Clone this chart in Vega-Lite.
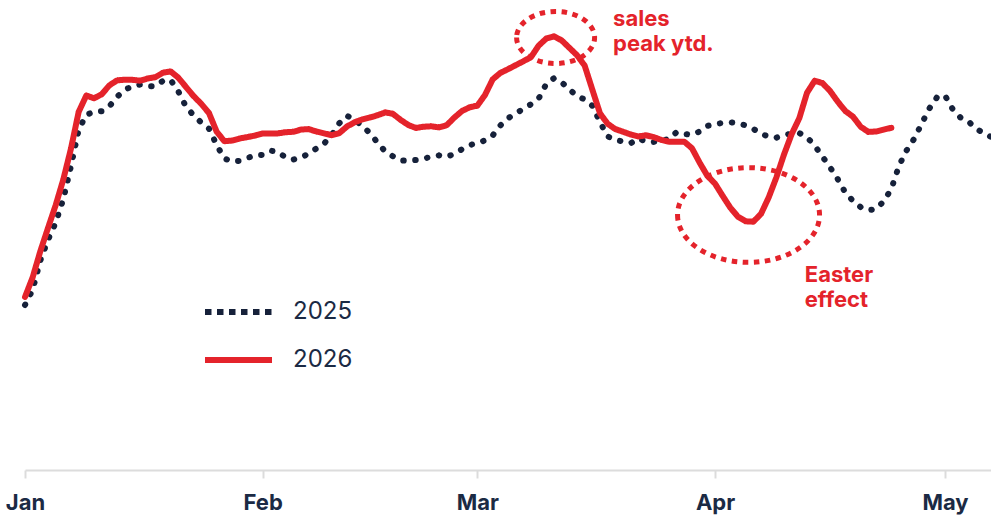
{
  "$schema": "https://vega.github.io/schema/vega-lite/v6.json",
  "width": 966,
  "height": 470,
  "autosize": {"type": "none"},
  "padding": {"left": 25, "top": 0, "right": 0, "bottom": 48},
  "background": "white",
  "config": {"view": {"stroke": null}, "font": "Inter"},
  "datasets": {
    "sales": [
      {"date":"2026-01-01","year":"2025","value":165},{"date":"2026-01-02","year":"2025","value":180.3},{"date":"2026-01-03","year":"2025","value":209.6},{"date":"2026-01-04","year":"2025","value":230.2},{"date":"2026-01-05","year":"2025","value":247.3},{"date":"2026-01-06","year":"2025","value":271},{"date":"2026-01-07","year":"2025","value":304},{"date":"2026-01-08","year":"2025","value":340.3},{"date":"2026-01-09","year":"2025","value":355.3},{"date":"2026-01-10","year":"2025","value":358.1},{"date":"2026-01-11","year":"2025","value":358.8},{"date":"2026-01-12","year":"2025","value":363.6},{"date":"2026-01-13","year":"2025","value":373.1},{"date":"2026-01-14","year":"2025","value":380.2},{"date":"2026-01-15","year":"2025","value":383.7},{"date":"2026-01-16","year":"2025","value":385.4},{"date":"2026-01-17","year":"2025","value":383.8},{"date":"2026-01-18","year":"2025","value":383.8},{"date":"2026-01-19","year":"2025","value":389.2},{"date":"2026-01-20","year":"2025","value":390.1},{"date":"2026-01-21","year":"2025","value":378.5},{"date":"2026-01-22","year":"2025","value":363.3},{"date":"2026-01-23","year":"2025","value":354.6},{"date":"2026-01-24","year":"2025","value":347.4},{"date":"2026-01-25","year":"2025","value":341.4},{"date":"2026-01-26","year":"2025","value":325},{"date":"2026-01-27","year":"2025","value":311.5},{"date":"2026-01-28","year":"2025","value":308.5},{"date":"2026-01-29","year":"2025","value":309.2},{"date":"2026-01-30","year":"2025","value":312.1},{"date":"2026-01-31","year":"2025","value":314.5},
      {"date":"2026-02-01","year":"2025","value":315.2},{"date":"2026-02-02","year":"2025","value":319.4},{"date":"2026-02-03","year":"2025","value":318.2},{"date":"2026-02-04","year":"2025","value":312.5},{"date":"2026-02-05","year":"2025","value":310.4},{"date":"2026-02-06","year":"2025","value":312.6},{"date":"2026-02-07","year":"2025","value":316.2},{"date":"2026-02-08","year":"2025","value":321.5},{"date":"2026-02-09","year":"2025","value":326.3},{"date":"2026-02-10","year":"2025","value":335},{"date":"2026-02-11","year":"2025","value":346.8},{"date":"2026-02-12","year":"2025","value":354.2},{"date":"2026-02-13","year":"2025","value":350.2},{"date":"2026-02-14","year":"2025","value":344},{"date":"2026-02-15","year":"2025","value":336.8},{"date":"2026-02-16","year":"2025","value":327.2},{"date":"2026-02-17","year":"2025","value":318.4},{"date":"2026-02-18","year":"2025","value":313.7},{"date":"2026-02-19","year":"2025","value":309.5},{"date":"2026-02-20","year":"2025","value":309.2},{"date":"2026-02-21","year":"2025","value":310},{"date":"2026-02-22","year":"2025","value":311.3},{"date":"2026-02-23","year":"2025","value":313.3},{"date":"2026-02-24","year":"2025","value":314.7},{"date":"2026-02-25","year":"2025","value":313.2},{"date":"2026-02-26","year":"2025","value":316.1},{"date":"2026-02-27","year":"2025","value":320.8},{"date":"2026-02-28","year":"2025","value":324.9},
      {"date":"2026-03-01","year":"2025","value":326.9},{"date":"2026-03-02","year":"2025","value":329.6},{"date":"2026-03-03","year":"2025","value":334.5},{"date":"2026-03-04","year":"2025","value":344.5},{"date":"2026-03-05","year":"2025","value":351.7},{"date":"2026-03-06","year":"2025","value":356.6},{"date":"2026-03-07","year":"2025","value":361.1},{"date":"2026-03-08","year":"2025","value":365.8},{"date":"2026-03-09","year":"2025","value":371.4},{"date":"2026-03-10","year":"2025","value":386.2},{"date":"2026-03-11","year":"2025","value":391.8},{"date":"2026-03-12","year":"2025","value":387.7},{"date":"2026-03-13","year":"2025","value":380.6},{"date":"2026-03-14","year":"2025","value":373.9},{"date":"2026-03-15","year":"2025","value":370.6},{"date":"2026-03-16","year":"2025","value":364.4},{"date":"2026-03-17","year":"2025","value":347.9},{"date":"2026-03-18","year":"2025","value":333.6},{"date":"2026-03-19","year":"2025","value":330},{"date":"2026-03-20","year":"2025","value":328.5},{"date":"2026-03-21","year":"2025","value":326.7},{"date":"2026-03-22","year":"2025","value":331.4},{"date":"2026-03-23","year":"2025","value":328.5},{"date":"2026-03-24","year":"2025","value":328.1},{"date":"2026-03-25","year":"2025","value":329.4},{"date":"2026-03-26","year":"2025","value":331},{"date":"2026-03-27","year":"2025","value":337.9},{"date":"2026-03-28","year":"2025","value":336.1},{"date":"2026-03-29","year":"2025","value":335.2},{"date":"2026-03-30","year":"2025","value":338.5},{"date":"2026-03-31","year":"2025","value":344.1},
      {"date":"2026-04-01","year":"2025","value":346},{"date":"2026-04-02","year":"2025","value":347},{"date":"2026-04-03","year":"2025","value":347.7},{"date":"2026-04-04","year":"2025","value":346.6},{"date":"2026-04-05","year":"2025","value":344.6},{"date":"2026-04-06","year":"2025","value":341.1},{"date":"2026-04-07","year":"2025","value":336.2},{"date":"2026-04-08","year":"2025","value":333.4},{"date":"2026-04-09","year":"2025","value":332.3},{"date":"2026-04-10","year":"2025","value":334.9},{"date":"2026-04-11","year":"2025","value":336.4},{"date":"2026-04-12","year":"2025","value":337},{"date":"2026-04-13","year":"2025","value":332.7},{"date":"2026-04-14","year":"2025","value":324.5},{"date":"2026-04-15","year":"2025","value":313.5},{"date":"2026-04-16","year":"2025","value":302.8},{"date":"2026-04-17","year":"2025","value":291},{"date":"2026-04-18","year":"2025","value":277.4},{"date":"2026-04-19","year":"2025","value":269.1},{"date":"2026-04-20","year":"2025","value":262.9},{"date":"2026-04-21","year":"2025","value":259.7},{"date":"2026-04-22","year":"2025","value":260.9},{"date":"2026-04-23","year":"2025","value":268.6},{"date":"2026-04-24","year":"2025","value":281.1},{"date":"2026-04-25","year":"2025","value":304.3},{"date":"2026-04-26","year":"2025","value":319.7},{"date":"2026-04-27","year":"2025","value":331.5},{"date":"2026-04-28","year":"2025","value":347},{"date":"2026-04-29","year":"2025","value":362},{"date":"2026-04-30","year":"2025","value":373.2},
      {"date":"2026-05-01","year":"2025","value":374.5},{"date":"2026-05-02","year":"2025","value":360.9},{"date":"2026-05-03","year":"2025","value":352.6},{"date":"2026-05-04","year":"2025","value":349},{"date":"2026-05-05","year":"2025","value":341.4},{"date":"2026-05-06","year":"2025","value":337.1},{"date":"2026-05-07","year":"2025","value":333.1},

      {"date":"2026-01-01","year":"2026","value":173},{"date":"2026-01-02","year":"2026","value":192.7},{"date":"2026-01-03","year":"2026","value":218.8},{"date":"2026-01-04","year":"2026","value":242},{"date":"2026-01-05","year":"2026","value":264.8},{"date":"2026-01-06","year":"2026","value":290.6},{"date":"2026-01-07","year":"2026","value":321.5},{"date":"2026-01-08","year":"2026","value":358.1},{"date":"2026-01-09","year":"2026","value":374.5},{"date":"2026-01-10","year":"2026","value":371.7},{"date":"2026-01-11","year":"2026","value":375.7},{"date":"2026-01-12","year":"2026","value":384.6},{"date":"2026-01-13","year":"2026","value":389.6},{"date":"2026-01-14","year":"2026","value":390.3},{"date":"2026-01-15","year":"2026","value":390.2},{"date":"2026-01-16","year":"2026","value":389.3},{"date":"2026-01-17","year":"2026","value":391.5},{"date":"2026-01-18","year":"2026","value":392.8},{"date":"2026-01-19","year":"2026","value":397.3},{"date":"2026-01-20","year":"2026","value":398.6},{"date":"2026-01-21","year":"2026","value":392.3},{"date":"2026-01-22","year":"2026","value":383},{"date":"2026-01-23","year":"2026","value":373.8},{"date":"2026-01-24","year":"2026","value":366.1},{"date":"2026-01-25","year":"2026","value":356.9},{"date":"2026-01-26","year":"2026","value":338.3},{"date":"2026-01-27","year":"2026","value":328.8},{"date":"2026-01-28","year":"2026","value":329.4},{"date":"2026-01-29","year":"2026","value":331.5},{"date":"2026-01-30","year":"2026","value":332.9},{"date":"2026-01-31","year":"2026","value":334.4},
      {"date":"2026-02-01","year":"2026","value":336.6},{"date":"2026-02-02","year":"2026","value":336.6},{"date":"2026-02-03","year":"2026","value":336.6},{"date":"2026-02-04","year":"2026","value":337.8},{"date":"2026-02-05","year":"2026","value":338.2},{"date":"2026-02-06","year":"2026","value":340.4},{"date":"2026-02-07","year":"2026","value":340.9},{"date":"2026-02-08","year":"2026","value":338.5},{"date":"2026-02-09","year":"2026","value":336.7},{"date":"2026-02-10","year":"2026","value":334.8},{"date":"2026-02-11","year":"2026","value":336.9},{"date":"2026-02-12","year":"2026","value":343.5},{"date":"2026-02-13","year":"2026","value":347.8},{"date":"2026-02-14","year":"2026","value":350.6},{"date":"2026-02-15","year":"2026","value":352.5},{"date":"2026-02-16","year":"2026","value":354.8},{"date":"2026-02-17","year":"2026","value":357.6},{"date":"2026-02-18","year":"2026","value":356.1},{"date":"2026-02-19","year":"2026","value":350.1},{"date":"2026-02-20","year":"2026","value":345},{"date":"2026-02-21","year":"2026","value":342},{"date":"2026-02-22","year":"2026","value":343.3},{"date":"2026-02-23","year":"2026","value":343.7},{"date":"2026-02-24","year":"2026","value":342.6},{"date":"2026-02-25","year":"2026","value":344.8},{"date":"2026-02-26","year":"2026","value":352.4},{"date":"2026-02-27","year":"2026","value":359},{"date":"2026-02-28","year":"2026","value":362.7},
      {"date":"2026-03-01","year":"2026","value":364.3},{"date":"2026-03-02","year":"2026","value":375},{"date":"2026-03-03","year":"2026","value":390.6},{"date":"2026-03-04","year":"2026","value":397.1},{"date":"2026-03-05","year":"2026","value":400.8},{"date":"2026-03-06","year":"2026","value":404.8},{"date":"2026-03-07","year":"2026","value":408.7},{"date":"2026-03-08","year":"2026","value":412.9},{"date":"2026-03-09","year":"2026","value":424.4},{"date":"2026-03-10","year":"2026","value":431.5},{"date":"2026-03-11","year":"2026","value":433.7},{"date":"2026-03-12","year":"2026","value":429.6},{"date":"2026-03-13","year":"2026","value":422.2},{"date":"2026-03-14","year":"2026","value":414.8},{"date":"2026-03-15","year":"2026","value":404.4},{"date":"2026-03-16","year":"2026","value":380.4},{"date":"2026-03-17","year":"2026","value":356.6},{"date":"2026-03-18","year":"2026","value":346.2},{"date":"2026-03-19","year":"2026","value":340.9},{"date":"2026-03-20","year":"2026","value":338.3},{"date":"2026-03-21","year":"2026","value":335.5},{"date":"2026-03-22","year":"2026","value":333.5},{"date":"2026-03-23","year":"2026","value":334.7},{"date":"2026-03-24","year":"2026","value":332.9},{"date":"2026-03-25","year":"2026","value":330.1},{"date":"2026-03-26","year":"2026","value":328.3},{"date":"2026-03-27","year":"2026","value":328.3},{"date":"2026-03-28","year":"2026","value":328.3},{"date":"2026-03-29","year":"2026","value":321.7},{"date":"2026-03-30","year":"2026","value":307.3},{"date":"2026-03-31","year":"2026","value":294.2},
      {"date":"2026-04-01","year":"2026","value":286.4},{"date":"2026-04-02","year":"2026","value":274.1},{"date":"2026-04-03","year":"2026","value":262.3},{"date":"2026-04-04","year":"2026","value":253.2},{"date":"2026-04-05","year":"2026","value":248.7},{"date":"2026-04-06","year":"2026","value":248.3},{"date":"2026-04-07","year":"2026","value":256.1},{"date":"2026-04-08","year":"2026","value":272.5},{"date":"2026-04-09","year":"2026","value":292.5},{"date":"2026-04-10","year":"2026","value":315.5},{"date":"2026-04-11","year":"2026","value":335.9},{"date":"2026-04-12","year":"2026","value":351.9},{"date":"2026-04-13","year":"2026","value":377.2},{"date":"2026-04-14","year":"2026","value":389.2},{"date":"2026-04-15","year":"2026","value":387},{"date":"2026-04-16","year":"2026","value":379.1},{"date":"2026-04-17","year":"2026","value":368.4},{"date":"2026-04-18","year":"2026","value":359},{"date":"2026-04-19","year":"2026","value":353.3},{"date":"2026-04-20","year":"2026","value":343.3},{"date":"2026-04-21","year":"2026","value":338.1},{"date":"2026-04-22","year":"2026","value":338.5},{"date":"2026-04-23","year":"2026","value":340.4},{"date":"2026-04-24","year":"2026","value":342.2}
    ],
    "peak": [{"date":"2026-03-11T05:00:00Z","value":432.5,"note":"sales peak ytd."}],
    "easter": [{"date":"2026-04-05T09:00:00Z","value":255,"note":"Easter effect"}],
    "notes": [
      {"date":"2026-03-18T17:00:00Z","value":444,"label":"sales\npeak ytd."},
      {"date":"2026-04-12T17:00:00Z","value":188.3,"label":"Easter\neffect"}
    ]
  },
  "layer": [
    {
      "data": {"name": "sales"},
      "mark": {"type": "line", "strokeWidth": 6, "strokeCap": "round", "strokeJoin": "round", "interpolate": "linear"},
      "encoding": {
        "x": {
          "field": "date", "type": "temporal",
          "scale": {"type": "utc", "domain": [{"year": 2026, "month": 1, "date": 1, "utc": true}, {"year": 2026, "month": 5, "date": 7, "utc": true}]},
          "axis": {
            "title": null,
            "values": [
              {"year": 2026, "month": 1, "date": 1, "utc": true},
              {"year": 2026, "month": 2, "date": 1, "utc": true},
              {"year": 2026, "month": 3, "date": 1, "utc": true},
              {"year": 2026, "month": 4, "date": 1, "utc": true},
              {"year": 2026, "month": 5, "date": 1, "utc": true}
            ],
            "format": "%b",
            "grid": false,
            "domainColor": "#dcdcdc", "domainWidth": 2,
            "tickColor": "#dcdcdc", "tickWidth": 2, "tickSize": 8,
            "labelFont": "Inter", "labelFontWeight": "bold", "labelFontSize": 22,
            "labelColor": "#1b2a44", "labelPadding": 14, "labelFlush": false,
            "labelOverlap": false, "labelDx": 3
          }
        },
        "y": {"field": "value", "type": "quantitative", "scale": {"domain": [0, 470], "nice": false, "zero": false}, "axis": null},
        "color": {
          "field": "year", "type": "nominal",
          "scale": {"domain": ["2025", "2026"], "range": ["#16213a", "#e4232b"]},
          "legend": {
            "title": null, "orient": "none", "legendX": 180, "legendY": 300,
            "symbolType": "stroke", "symbolSize": 3721, "symbolStrokeWidth": 6,
            "labelFont": "Inter", "labelFontSize": 24, "labelColor": "#1b2a44",
            "labelOffset": 21, "rowPadding": 24, "clipHeight": 24, "padding": 0,
            "encode": {"symbols": {"update": {"strokeCap": {"value": "square"}}}}
          }
        },
        "strokeDash": {
          "field": "year", "type": "nominal",
          "scale": {"domain": ["2025", "2026"], "range": [[0.5, 11.5], [1, 0]]},
          "legend": null
        }
      }
    },
    {
      "data": {"name": "peak"},
      "mark": {"type": "point", "shape": "M -1 0 A 1 0.667 0 1 0 1 0 A 1 0.667 0 1 0 -1 0 Z", "size": 6084, "filled": false, "stroke": "#e4232b", "strokeWidth": 5, "strokeDash": [5.5, 5.5], "opacity": 1},
      "encoding": {"x": {"field": "date", "type": "temporal"}, "y": {"field": "value", "type": "quantitative"}}
    },
    {
      "data": {"name": "easter"},
      "mark": {"type": "point", "shape": "M -1 0 A 1 0.667 0 1 0 1 0 A 1 0.667 0 1 0 -1 0 Z", "size": 20164, "filled": false, "stroke": "#e4232b", "strokeWidth": 5, "strokeDash": [5.5, 5.5], "opacity": 1},
      "encoding": {"x": {"field": "date", "type": "temporal"}, "y": {"field": "value", "type": "quantitative"}}
    },
    {
      "data": {"name": "notes"},
      "mark": {"type": "text", "align": "left", "baseline": "alphabetic", "font": "Inter", "fontWeight": "bold", "fontSize": 22, "color": "#e4232b", "lineBreak": "\n", "lineHeight": 25},
      "encoding": {"x": {"field": "date", "type": "temporal"}, "y": {"field": "value", "type": "quantitative"}, "text": {"field": "label"}}
    }
  ]
}
